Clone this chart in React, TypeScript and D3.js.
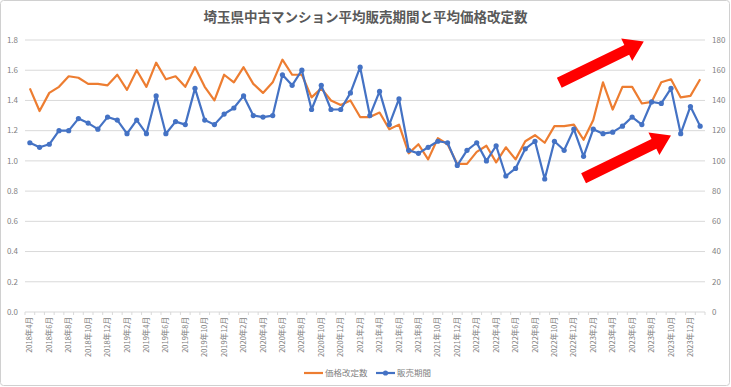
import React from 'react';
import * as d3 from 'd3';

// 2018年4月 〜 2024年1月 (70 months)
const months: string[] = [];
for (let k = 0; k < 70; k++) {
  const m = 3 + k;
  months.push(`${2018 + Math.floor(m / 12)}年${(m % 12) + 1}月`);
}

// 平均価格改定数 (left axis)
const priceRevisions = [
  1.48, 1.33, 1.45, 1.49, 1.56, 1.55, 1.51, 1.51, 1.50, 1.57,
  1.47, 1.60, 1.49, 1.65, 1.54, 1.56, 1.49, 1.62, 1.49, 1.40,
  1.57, 1.52, 1.62, 1.51, 1.45, 1.52, 1.67, 1.57, 1.57, 1.42,
  1.48, 1.40, 1.37, 1.40, 1.29, 1.29, 1.32, 1.21, 1.24, 1.05,
  1.11, 1.01, 1.15, 1.11, 0.98, 0.98, 1.06, 1.10, 0.99, 1.09,
  1.01, 1.13, 1.17, 1.12, 1.23, 1.23, 1.24, 1.14, 1.27, 1.52,
  1.34, 1.49, 1.49, 1.38, 1.39, 1.52, 1.54, 1.42, 1.43, 1.54,
];

// 平均販売期間 (right axis, days)
const salesPeriod = [
  112, 109, 111, 120, 120, 128, 125, 121, 129, 127,
  118, 127, 118, 143, 118, 126, 124, 148, 127, 124,
  131, 135, 143, 130, 129, 130, 157, 150, 160, 134,
  150, 134, 134, 145, 162, 130, 146, 124, 141, 107,
  105, 109, 113, 112, 97, 107, 112, 100, 110, 90,
  95, 108, 113, 88, 113, 107, 121, 103, 121, 118,
  119, 123, 129, 124, 139, 138, 148, 118, 136, 123,
];

const leftTicks = [0, 0.2, 0.4, 0.6, 0.8, 1.0, 1.2, 1.4, 1.6, 1.8];
const rightTicks = [0, 20, 40, 60, 80, 100, 120, 140, 160, 180];

// annotation arrows: [fromIndex, fromValue, toIndex, toValue] in left-axis units
const arrows = [
  [54.5, 1.517, 63.2, 1.79],
  [57.0, 0.885, 66.0, 1.168],
];

const W = 731;
const H = 387;
const plot = { left: 25, right: 705, top: 40, bottom: 312 };
const FONT = '"Noto Sans CJK JP", "Noto Sans", sans-serif';
const ORANGE = '#ED7D31';
const BLUE = '#4472C4';
const GRID = '#d9d9d9';
const TEXT = '#7f7f7f';

function arrowPath(x1: number, y1: number, x2: number, y2: number) {
  const shaft = 11;
  const headW = 25;
  const headL = 19;
  const dx = x2 - x1;
  const dy = y2 - y1;
  const len = Math.hypot(dx, dy);
  const ux = dx / len;
  const uy = dy / len;
  const nx = -uy;
  const ny = ux;
  const bx = x2 - ux * headL;
  const by = y2 - uy * headL;
  const pts = [
    [x1 + nx * shaft / 2, y1 + ny * shaft / 2],
    [bx + nx * shaft / 2, by + ny * shaft / 2],
    [bx + nx * headW / 2, by + ny * headW / 2],
    [x2, y2],
    [bx - nx * headW / 2, by - ny * headW / 2],
    [bx - nx * shaft / 2, by - ny * shaft / 2],
    [x1 - nx * shaft / 2, y1 - ny * shaft / 2],
  ];
  return 'M' + pts.map((p) => p.join(',')).join('L') + 'Z';
}

export default function App() {
  const x = d3
    .scaleBand<number>()
    .domain(d3.range(months.length))
    .range([plot.left, plot.right]);
  const cx = (i: number) => (x(Math.floor(i)) ?? 0) + x.bandwidth() / 2 + (i - Math.floor(i)) * x.step();
  const yL = d3.scaleLinear().domain([0, 1.8]).range([plot.bottom, plot.top]);
  const yR = d3.scaleLinear().domain([0, 180]).range([plot.bottom, plot.top]);

  const orangeLine = d3
    .line<number>()
    .x((_, i) => cx(i))
    .y((d) => yL(d));
  const blueLine = d3
    .line<number>()
    .x((_, i) => cx(i))
    .y((d) => yR(d));

  return (
    <svg
      width={W}
      height={H}
      style={{ position: 'absolute', left: 0, top: 0, display: 'block', background: '#fff' }}
      fontFamily={FONT}
    >
      <rect x={0.5} y={0.5} width={W - 2} height={H - 2} fill="#fff" stroke="#d0d0d0" rx={3} />
      <text
        x={W / 2}
        y={22}
        textAnchor="middle"
        fontSize={13.5}
        fontWeight={600}
        fill="#595959"
      >
        埼玉県中古マンション平均販売期間と平均価格改定数
      </text>

      {leftTicks.map((t, k) => (
        <g key={k}>
          <line
            x1={plot.left}
            x2={plot.right}
            y1={yL(t)}
            y2={yL(t)}
            stroke={GRID}
            strokeWidth={1}
          />
          <text x={18} y={yL(t)} dy="0.35em" textAnchor="end" fontSize={8} fill={TEXT}>
            {t.toFixed(1)}
          </text>
        </g>
      ))}
      {rightTicks.map((t, k) => (
        <text key={k} x={712} y={yR(t)} dy="0.35em" textAnchor="start" fontSize={8} fill={TEXT}>
          {t}
        </text>
      ))}

      {/* category tick marks */}
      {d3.range(months.length + 1).map((i) => {
        const xx = plot.left + i * x.step();
        return (
          <line key={i} x1={xx} x2={xx} y1={plot.bottom} y2={plot.bottom + 3} stroke={GRID} />
        );
      })}

      {months.map((m, i) =>
        i % 2 === 0 ? (
          <text
            key={i}
            transform={`translate(${cx(i)},${plot.bottom + 5}) rotate(-90)`}
            textAnchor="end"
            dy="0.35em"
            fontSize={7.5}
            fill={TEXT}
          >
            {m}
          </text>
        ) : null
      )}

      <path d={orangeLine(priceRevisions) ?? ''} fill="none" stroke={ORANGE} strokeWidth={2.2} strokeLinejoin="round" />
      <path d={blueLine(salesPeriod) ?? ''} fill="none" stroke={BLUE} strokeWidth={2.2} strokeLinejoin="round" />
      {salesPeriod.map((d, i) => (
        <circle key={i} cx={cx(i)} cy={yR(d)} r={2.6} fill={BLUE} />
      ))}

      {arrows.map((a, k) => (
        <path key={k} d={arrowPath(cx(a[0]), yL(a[1]), cx(a[2]), yL(a[3]))} fill="#ff0000" />
      ))}

      {/* legend */}
      <g transform="translate(0,373)">
        <line x1={304} x2={323} y1={0} y2={0} stroke={ORANGE} strokeWidth={2.2} />
        <text x={325} y={0} dy="0.35em" fontSize={8.5} fill={TEXT}>
          価格改定数
        </text>
        <line x1={376} x2={395} y1={0} y2={0} stroke={BLUE} strokeWidth={2.2} />
        <circle cx={385.5} cy={0} r={2.6} fill={BLUE} />
        <text x={397} y={0} dy="0.35em" fontSize={8.5} fill={TEXT}>
          販売期間
        </text>
      </g>
    </svg>
  );
}
